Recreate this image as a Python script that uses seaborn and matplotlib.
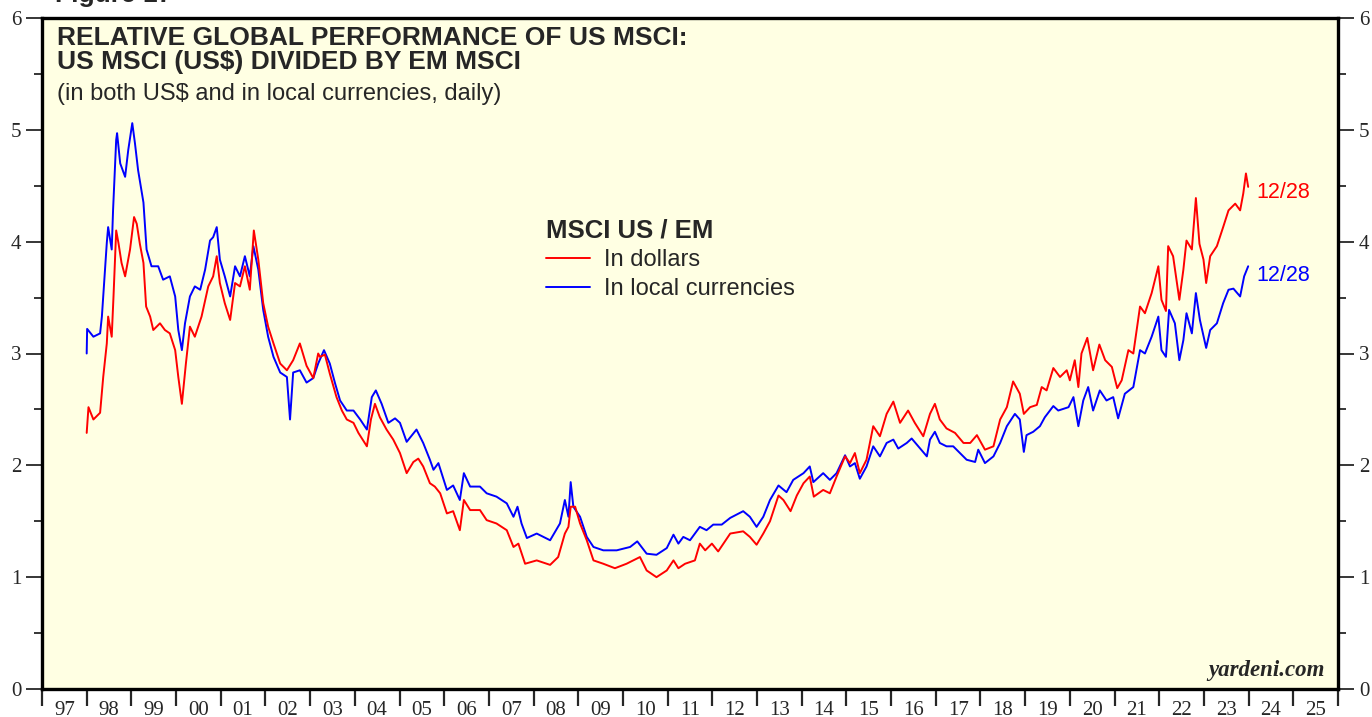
import pandas as pd
import matplotlib
matplotlib.use("Agg")
import matplotlib.pyplot as plt
from matplotlib.ticker import MultipleLocator, FixedLocator, FixedFormatter, NullFormatter, FormatStrFormatter
import seaborn as sns

# MSCI US / EM ratio in dollars (decimal years)
usd_years = [1998.00, 1998.04, 1998.15, 1998.30, 1998.37, 1998.45, 1998.48, 1998.56, 1998.60, 1998.66,
             1998.71, 1998.78, 1998.86, 1998.97, 1999.06, 1999.12, 1999.19, 1999.27, 1999.33, 1999.42,
             1999.49, 1999.64, 1999.75, 1999.86, 1999.98, 2000.05, 2000.13, 2000.22, 2000.31, 2000.42,
             2000.57, 2000.72, 2000.83, 2000.91, 2000.98, 2001.09, 2001.21, 2001.32, 2001.43, 2001.54,
             2001.65, 2001.74, 2001.84, 2001.95, 2002.06, 2002.18, 2002.33, 2002.48, 2002.62, 2002.77,
             2002.92, 2003.07, 2003.18, 2003.22, 2003.33, 2003.44, 2003.59, 2003.71, 2003.82, 2003.97,
             2004.08, 2004.27, 2004.36, 2004.45, 2004.56, 2004.71, 2004.86, 2005.01, 2005.16, 2005.31,
             2005.42, 2005.53, 2005.68, 2005.79, 2005.91, 2006.06, 2006.20, 2006.35, 2006.44, 2006.58,
             2006.80, 2006.95, 2007.17, 2007.40, 2007.55, 2007.66, 2007.81, 2008.07, 2008.37, 2008.55,
             2008.70, 2008.78, 2008.83, 2008.93, 2009.04, 2009.19, 2009.34, 2009.56, 2009.82, 2010.08,
             2010.38, 2010.53, 2010.75, 2010.98, 2011.13, 2011.24, 2011.39, 2011.61, 2011.72, 2011.84,
             2011.99, 2012.13, 2012.40, 2012.69, 2012.84, 2012.99, 2013.14, 2013.29, 2013.48, 2013.59,
             2013.75, 2013.89, 2014.04, 2014.18, 2014.27, 2014.48, 2014.63, 2014.78, 2014.97, 2015.08,
             2015.19, 2015.30, 2015.45, 2015.60, 2015.75, 2015.90, 2016.05, 2016.20, 2016.38, 2016.53,
             2016.72, 2016.87, 2016.98, 2017.09, 2017.24, 2017.43, 2017.62, 2017.77, 2017.92, 2018.10,
             2018.29, 2018.44, 2018.59, 2018.73, 2018.88, 2018.97, 2019.11, 2019.26, 2019.37, 2019.48,
             2019.63, 2019.78, 2019.93, 2020.00, 2020.11, 2020.19, 2020.26, 2020.39, 2020.52, 2020.66,
             2020.79, 2020.94, 2021.06, 2021.16, 2021.31, 2021.42, 2021.57, 2021.68, 2021.83, 2021.98,
             2022.05, 2022.15, 2022.20, 2022.31, 2022.45, 2022.54, 2022.61, 2022.73, 2022.82, 2022.90,
             2022.99, 2023.05, 2023.14, 2023.29, 2023.43, 2023.55, 2023.70, 2023.81, 2023.88, 2023.94,
             2023.99]
usd_values = [2.29, 2.52, 2.41, 2.47, 2.79, 3.09, 3.33, 3.15, 3.51, 4.10,
              3.99, 3.81, 3.69, 3.93, 4.22, 4.16, 3.98, 3.81, 3.42, 3.33,
              3.21, 3.27, 3.21, 3.18, 3.03, 2.79, 2.55, 2.91, 3.24, 3.15,
              3.33, 3.60, 3.69, 3.87, 3.63, 3.45, 3.30, 3.63, 3.60, 3.78,
              3.57, 4.10, 3.84, 3.45, 3.24, 3.09, 2.91, 2.85, 2.94, 3.09,
              2.89, 2.78, 3.00, 2.97, 2.99, 2.82, 2.61, 2.49, 2.41, 2.38,
              2.29, 2.17, 2.41, 2.55, 2.43, 2.32, 2.23, 2.11, 1.93, 2.03,
              2.06, 1.99, 1.84, 1.81, 1.75, 1.57, 1.59, 1.42, 1.69, 1.60,
              1.60, 1.51, 1.48, 1.42, 1.27, 1.30, 1.12, 1.15, 1.11, 1.18,
              1.39, 1.45, 1.63, 1.63, 1.48, 1.33, 1.15, 1.12, 1.08, 1.12,
              1.18, 1.06, 1.00, 1.06, 1.15, 1.08, 1.12, 1.15, 1.30, 1.24,
              1.30, 1.23, 1.39, 1.41, 1.36, 1.29, 1.39, 1.50, 1.73, 1.69,
              1.59, 1.73, 1.84, 1.90, 1.72, 1.78, 1.75, 1.90, 2.08, 2.02,
              2.11, 1.93, 2.05, 2.35, 2.26, 2.46, 2.57, 2.38, 2.49, 2.38,
              2.26, 2.46, 2.55, 2.41, 2.33, 2.29, 2.20, 2.20, 2.27, 2.14,
              2.17, 2.41, 2.52, 2.75, 2.64, 2.46, 2.52, 2.54, 2.70, 2.67,
              2.87, 2.79, 2.85, 2.76, 2.94, 2.70, 3.00, 3.14, 2.85, 3.08,
              2.94, 2.88, 2.69, 2.76, 3.03, 3.00, 3.42, 3.36, 3.54, 3.78,
              3.48, 3.38, 3.96, 3.87, 3.48, 3.75, 4.01, 3.93, 4.39, 3.98,
              3.84, 3.63, 3.87, 3.96, 4.13, 4.28, 4.34, 4.28, 4.43, 4.61,
              4.49]

# MSCI US / EM ratio in local currencies
local_years = [1998.00, 1998.01, 1998.15, 1998.30, 1998.34, 1998.45, 1998.48, 1998.56, 1998.59, 1998.66,
               1998.68, 1998.75, 1998.86, 1998.93, 1999.02, 1999.08, 1999.15, 1999.27, 1999.34, 1999.45,
               1999.60, 1999.71, 1999.86, 1999.98, 2000.05, 2000.13, 2000.20, 2000.31, 2000.42, 2000.54,
               2000.65, 2000.76, 2000.83, 2000.91, 2000.98, 2001.09, 2001.21, 2001.32, 2001.43, 2001.54,
               2001.65, 2001.73, 2001.84, 2001.95, 2002.06, 2002.18, 2002.33, 2002.48, 2002.55, 2002.62,
               2002.77, 2002.92, 2003.07, 2003.18, 2003.31, 2003.44, 2003.56, 2003.67, 2003.82, 2003.97,
               2004.12, 2004.27, 2004.38, 2004.47, 2004.60, 2004.75, 2004.90, 2005.01, 2005.16, 2005.38,
               2005.53, 2005.68, 2005.76, 2005.87, 2006.06, 2006.20, 2006.35, 2006.44, 2006.58, 2006.80,
               2006.95, 2007.17, 2007.40, 2007.55, 2007.64, 2007.73, 2007.85, 2008.07, 2008.37, 2008.59,
               2008.70, 2008.78, 2008.83, 2008.89, 2009.04, 2009.19, 2009.34, 2009.56, 2009.86, 2010.16,
               2010.32, 2010.53, 2010.75, 2010.98, 2011.13, 2011.24, 2011.35, 2011.50, 2011.72, 2011.87,
               2012.02, 2012.21, 2012.40, 2012.69, 2012.84, 2012.99, 2013.14, 2013.29, 2013.48, 2013.66,
               2013.81, 2014.04, 2014.18, 2014.26, 2014.48, 2014.63, 2014.78, 2014.97, 2015.08, 2015.19,
               2015.30, 2015.45, 2015.60, 2015.75, 2015.90, 2016.05, 2016.16, 2016.35, 2016.46, 2016.61,
               2016.80, 2016.87, 2016.98, 2017.09, 2017.24, 2017.39, 2017.54, 2017.69, 2017.88, 2017.95,
               2018.10, 2018.29, 2018.44, 2018.59, 2018.77, 2018.88, 2018.97, 2019.03, 2019.18, 2019.33,
               2019.44, 2019.63, 2019.74, 2019.97, 2020.08, 2020.19, 2020.30, 2020.41, 2020.52, 2020.67,
               2020.82, 2020.97, 2021.08, 2021.23, 2021.42, 2021.57, 2021.68, 2021.83, 2021.98, 2022.05,
               2022.15, 2022.22, 2022.35, 2022.45, 2022.54, 2022.61, 2022.73, 2022.82, 2022.91, 2023.05,
               2023.14, 2023.29, 2023.43, 2023.55, 2023.66, 2023.81, 2023.90, 2023.99]
local_values = [3.00, 3.22, 3.15, 3.18, 3.33, 3.99, 4.13, 3.93, 4.28, 4.91,
                4.97, 4.70, 4.58, 4.82, 5.06, 4.88, 4.64, 4.35, 3.93, 3.78,
                3.78, 3.66, 3.69, 3.51, 3.21, 3.03, 3.27, 3.51, 3.60, 3.57,
                3.75, 4.01, 4.04, 4.13, 3.84, 3.69, 3.51, 3.78, 3.69, 3.87,
                3.69, 3.96, 3.75, 3.39, 3.15, 2.97, 2.83, 2.79, 2.41, 2.83,
                2.85, 2.74, 2.78, 2.91, 3.03, 2.91, 2.73, 2.58, 2.49, 2.49,
                2.41, 2.32, 2.61, 2.67, 2.55, 2.38, 2.42, 2.38, 2.21, 2.32,
                2.20, 2.05, 1.96, 2.02, 1.78, 1.82, 1.69, 1.93, 1.81, 1.81,
                1.75, 1.72, 1.66, 1.54, 1.63, 1.48, 1.35, 1.39, 1.33, 1.48,
                1.69, 1.54, 1.85, 1.63, 1.54, 1.36, 1.27, 1.24, 1.24, 1.27,
                1.32, 1.21, 1.20, 1.26, 1.38, 1.30, 1.36, 1.33, 1.45, 1.42,
                1.47, 1.47, 1.53, 1.59, 1.54, 1.45, 1.54, 1.69, 1.82, 1.76,
                1.87, 1.93, 1.99, 1.85, 1.93, 1.87, 1.93, 2.09, 1.99, 2.02,
                1.88, 1.99, 2.17, 2.08, 2.20, 2.23, 2.15, 2.20, 2.24, 2.17,
                2.08, 2.23, 2.30, 2.20, 2.17, 2.17, 2.11, 2.05, 2.03, 2.14,
                2.02, 2.08, 2.20, 2.35, 2.46, 2.41, 2.12, 2.27, 2.30, 2.35,
                2.43, 2.53, 2.49, 2.52, 2.61, 2.35, 2.58, 2.70, 2.49, 2.67,
                2.58, 2.61, 2.42, 2.64, 2.70, 3.03, 3.00, 3.15, 3.33, 3.03,
                2.97, 3.39, 3.27, 2.94, 3.12, 3.36, 3.18, 3.54, 3.30, 3.05,
                3.21, 3.27, 3.45, 3.57, 3.58, 3.51, 3.69, 3.78]

year_labels = ["97", "98", "99", "00", "01", "02", "03", "04", "05", "06",
               "07", "08", "09", "10", "11", "12", "13", "14", "15", "16",
               "17", "18", "19", "20", "21", "22", "23", "24", "25"]

RED = "#FF0000"
BLUE = "#0000FF"
SANS = "Liberation Sans"

sns.set_style("ticks")
plt.rcParams["font.family"] = ["Liberation Serif", "DejaVu Serif"]


def draw_chart():
    df_usd = pd.DataFrame({"year": usd_years, "ratio": usd_values})
    df_local = pd.DataFrame({"year": local_years, "ratio": local_values})

    W, H = 1372, 717
    fig = plt.figure(figsize=(W / 100, H / 100), dpi=100)
    ax = fig.add_axes([42 / W, 28 / H, 1296 / W, 671 / H])
    ax.set_facecolor("#FFFFE3")

    sns.lineplot(data=df_local, x="year", y="ratio", color=BLUE, linewidth=1.4,
                 estimator=None, sort=False, ax=ax, label="In local currencies")
    sns.lineplot(data=df_usd, x="year", y="ratio", color=RED, linewidth=1.4,
                 estimator=None, sort=False, ax=ax, label="In dollars")

    # axes & ticks
    ax.set_xlim(1997, 2026)
    ax.set_ylim(0, 6)
    ax.set_xlabel("")
    ax.set_ylabel("")
    ax.xaxis.set_major_locator(FixedLocator(list(range(1997, 2027))))
    ax.xaxis.set_major_formatter(NullFormatter())
    ax.xaxis.set_minor_locator(FixedLocator([y + 0.5 for y in range(1997, 2026)]))
    ax.xaxis.set_minor_formatter(FixedFormatter(year_labels))
    ax.tick_params(axis="x", which="major", length=12, width=1.6, direction="out")
    ax.tick_params(axis="x", which="minor", length=0, pad=8.5, labelsize=15)

    ax.yaxis.set_major_locator(MultipleLocator(1))
    ax.yaxis.set_minor_locator(MultipleLocator(0.5))
    ax.yaxis.set_major_formatter(FormatStrFormatter("%d"))
    ax.tick_params(axis="y", which="both", left=True, right=True, labelleft=True,
                   labelright=True, direction="out", width=1.3, labelsize=15)
    ax.tick_params(axis="y", which="major", length=11.5, pad=3.5)
    ax.tick_params(axis="y", which="minor", length=6)

    for spine in ax.spines.values():
        spine.set_linewidth(2.4)
        spine.set_color("black")

    # titles
    fig.text(55 / W, 1 - 2 / H, "Figure 17", fontsize=19, weight="bold", family=SANS, va="baseline")
    fig.text(57 / W, 1 - 45 / H, "RELATIVE GLOBAL PERFORMANCE OF US MSCI:",
             fontsize=19, weight="bold", family=SANS, va="baseline")
    fig.text(57 / W, 1 - 68.5 / H, "US MSCI (US$) DIVIDED BY EM MSCI",
             fontsize=19, weight="bold", family=SANS, va="baseline")
    fig.text(57 / W, 1 - 100 / H, "(in both US$ and in local currencies, daily)",
             fontsize=17, family=SANS, va="baseline")

    # legend
    handles, labels = ax.get_legend_handles_labels()
    order = [labels.index("In dollars"), labels.index("In local currencies")]
    ax.legend([handles[i] for i in order], [labels[i] for i in order],
              title="MSCI US / EM", loc="upper left",
              bbox_to_anchor=(546 / W, 1 - 218 / H), bbox_transform=fig.transFigure,
              frameon=False, alignment="left", borderpad=0, borderaxespad=0,
              handlelength=1.85, handletextpad=0.6, labelspacing=0.3,
              prop={"family": SANS, "size": 17},
              title_fontproperties={"family": SANS, "size": 18.5, "weight": "bold"})

    # end-of-series date labels
    ax.annotate("12/28", xy=(usd_years[-1], usd_values[-1]), xytext=(6, -4),
                textcoords="offset points", color=RED, fontsize=15.5, family=SANS, va="center")
    ax.annotate("12/28", xy=(local_years[-1], local_values[-1]), xytext=(6, -6.5),
                textcoords="offset points", color=BLUE, fontsize=15.5, family=SANS, va="center")

    ax.text(0.99, 0.012, "yardeni.com", transform=ax.transAxes, ha="right", va="bottom",
            fontsize=16.5, weight="bold", style="italic", family="Liberation Serif")

    fig.savefig("out.png", dpi=100)


if __name__ == "__main__":
    draw_chart()
